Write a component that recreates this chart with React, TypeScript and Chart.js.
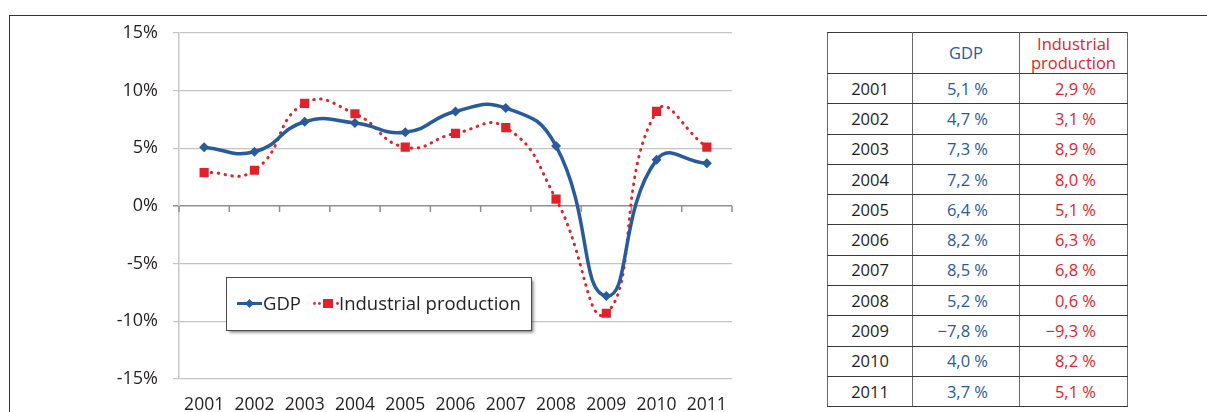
import React, { useEffect, useRef } from "react";
import { Chart, registerables } from "chart.js";

Chart.register(...registerables);

const years = ["2001", "2002", "2003", "2004", "2005", "2006", "2007", "2008", "2009", "2010", "2011"];
const gdp = [5.1, 4.7, 7.3, 7.2, 6.4, 8.2, 8.5, 5.2, -7.8, 4.0, 3.7];
const industrial = [2.9, 3.1, 8.9, 8.0, 5.1, 6.3, 6.8, 0.6, -9.3, 8.2, 5.1];
const gdpLabels = ["5,1 %", "4,7 %", "7,3 %", "7,2 %", "6,4 %", "8,2 %", "8,5 %", "5,2 %", "\u22127,8 %", "4,0 %", "3,7 %"];
const industrialLabels = ["2,9 %", "3,1 %", "8,9 %", "8,0 %", "5,1 %", "6,3 %", "6,8 %", "0,6 %", "\u22129,3 %", "8,2 %", "5,1 %"];
const yMin = -15;
const yMax = 15;
const yStep = 5;
const seriesNames = ["GDP", "Industrial production"];
const headerIndustrial = ["Industrial", "production"];

const BLUE = "#285a9c";
const RED = "#e2222b";
const FONT = "'Open Sans', 'DejaVu Sans', sans-serif";

const zeroTicksPlugin = {
  id: "zeroTicks",
  afterDatasetsDraw(chart: any) {
    const { ctx, scales } = chart;
    const x = scales.x;
    const y = scales.y;
    const y0 = y.getPixelForValue(0);
    const step = x.getPixelForValue(1) - x.getPixelForValue(0);
    ctx.save();
    ctx.strokeStyle = "#8f8f8f";
    ctx.lineWidth = 1.5;
    for (let i = 0; i <= years.length; i++) {
      const px = x.getPixelForValue(0) - step / 2 + i * step;
      ctx.beginPath();
      ctx.moveTo(px, y0);
      ctx.lineTo(px, y0 + 6);
      ctx.stroke();
    }
    ctx.restore();
  },
};

const legendPlugin = {
  id: "boxLegend",
  afterDraw(chart: any) {
    const { ctx } = chart;
    const bx = 226, by = 277, bw = 305, bh = 53;
    ctx.save();
    ctx.shadowColor = "rgba(0,0,0,0.5)";
    ctx.shadowBlur = 3;
    ctx.shadowOffsetX = 2.5;
    ctx.shadowOffsetY = 2.5;
    ctx.fillStyle = "#ffffff";
    ctx.fillRect(bx, by, bw, bh);
    ctx.shadowColor = "transparent";
    ctx.strokeStyle = "#4a4a4a";
    ctx.lineWidth = 1;
    ctx.strokeRect(bx + 0.5, by + 0.5, bw, bh);

    const cy = by + 26.5;
    ctx.strokeStyle = BLUE;
    ctx.lineWidth = 3;
    ctx.beginPath();
    ctx.moveTo(237, cy);
    ctx.lineTo(262, cy);
    ctx.stroke();
    ctx.fillStyle = BLUE;
    ctx.beginPath();
    ctx.moveTo(249.5 - 4.5, cy);
    ctx.lineTo(249.5, cy - 4.5);
    ctx.lineTo(249.5 + 4.5, cy);
    ctx.lineTo(249.5, cy + 4.5);
    ctx.closePath();
    ctx.fill();

    ctx.font = `18.5px ${FONT}`;
    ctx.fillStyle = "#231f20";
    ctx.textBaseline = "middle";
    ctx.textAlign = "left";
    ctx.fillText(seriesNames[0], 263, cy + 1);

    ctx.fillStyle = RED;
    [314.5, 319.5, 337.5].forEach((dx) => {
      ctx.beginPath();
      ctx.arc(dx, cy, 1.4, 0, Math.PI * 2);
      ctx.fill();
    });
    ctx.fillRect(323, cy - 4.5, 10, 9);

    ctx.fillStyle = "#231f20";
    ctx.fillText(seriesNames[1], 339, cy + 1);
    ctx.restore();
  },
};

function ChartPanel() {
  const ref = useRef<HTMLCanvasElement>(null);
  useEffect(() => {
    if (!ref.current) return;
    const chart = new Chart(ref.current, {
      type: "line",
      data: {
        labels: years,
        datasets: [
          {
            label: seriesNames[0],
            data: gdp,
            borderColor: BLUE,
            backgroundColor: BLUE,
            borderWidth: 3.5,
            tension: 0.5,
            pointStyle: "rectRot",
            pointRadius: 5,
            pointBorderWidth: 0,
            pointBackgroundColor: BLUE,
            fill: false,
          },
          {
            label: seriesNames[1],
            data: industrial,
            borderColor: RED,
            backgroundColor: RED,
            borderWidth: 3,
            borderDash: [0.5, 6.5],
            borderCapStyle: "round",
            tension: 0.5,
            pointStyle: "rect",
            pointRadius: 6.5,
            pointBorderWidth: 0,
            pointBackgroundColor: RED,
            fill: false,
          },
        ],
      },
      options: {
        responsive: false,
        animation: false,
        devicePixelRatio: 1,
        layout: { padding: { left: 0, right: 28, top: 33, bottom: 21 } },
        plugins: {
          legend: { display: false },
          tooltip: { enabled: false },
          title: { display: false },
        },
        scales: {
          x: {
            type: "category",
            offset: true,
            grid: { display: false, drawTicks: false },
            border: { display: false },
            ticks: {
              color: "#231f20",
              font: { family: FONT, size: 17.5 },
              padding: 16,
              maxRotation: 0,
              autoSkip: false,
            },
            afterFit: (s: any) => {
              s.height = 40;
            },
          },
          y: {
            min: yMin,
            max: yMax,
            ticks: {
              stepSize: yStep,
              color: "#231f20",
              font: { family: FONT, size: 18 },
              padding: 15,
              callback: (v: any) => `${v}%`,
            },
            grid: {
              color: (c: any) => (c.tick && c.tick.value === 0 ? "#8f8f8f" : "#c4c4c4"),
              lineWidth: (c: any) => (c.tick && c.tick.value === 0 ? 1.5 : 1.2),
              tickLength: 6,
            },
            border: { color: "#c8c8c8", width: 1.5 },
            afterFit: (s: any) => {
              s.width = 179;
            },
          },
        },
      },
      plugins: [zeroTicksPlugin, legendPlugin],
    });
    return () => chart.destroy();
  }, []);
  return (
    <canvas
      ref={ref}
      width={760}
      height={440}
      style={{ position: "absolute", left: 0, top: 0, width: 760, height: 440 }}
    />
  );
}

function DataTable() {
  const cellBase: React.CSSProperties = {
    borderTop: "1px solid #3a3a3a",
    borderBottom: "1px solid #3a3a3a",
    borderLeft: "1px solid #6a6a6a",
    borderRight: "1px solid #6a6a6a",
    padding: 0,
    height: 29.3,
    boxSizing: "border-box",
    fontFamily: FONT,
    fontSize: 16.5,
    lineHeight: "20px",
    verticalAlign: "middle",
  };
  return (
    <table
      style={{
        position: "absolute",
        left: 827,
        top: 32,
        borderCollapse: "collapse",
        border: "1.5px solid #9a9a9a",
        tableLayout: "fixed",
        width: 301,
      }}
    >
      <colgroup>
        <col style={{ width: 85 }} />
        <col style={{ width: 107 }} />
        <col style={{ width: 108 }} />
      </colgroup>
      <tbody>
        <tr style={{ height: 41 }}>
          <td style={{ ...cellBase, height: 41 }}></td>
          <td style={{ ...cellBase, height: 41, color: BLUE, textAlign: "center" }}>{seriesNames[0]}</td>
          <td style={{ ...cellBase, height: 41, color: RED, textAlign: "center", lineHeight: "19px" }}>
            {headerIndustrial[0]}
            <br />
            {headerIndustrial[1]}
          </td>
        </tr>
        {years.map((yr, i) => (
          <tr key={yr} style={{ height: 30.3 }}>
            <td style={{ ...cellBase, color: "#231f20", textAlign: "center" }}>{yr}</td>
            <td style={{ ...cellBase, color: BLUE, textAlign: "right", paddingRight: 31 }}>{gdpLabels[i]}</td>
            <td style={{ ...cellBase, color: RED, textAlign: "right", paddingRight: 31 }}>{industrialLabels[i]}</td>
          </tr>
        ))}
      </tbody>
    </table>
  );
}

export default function App() {
  return (
    <div
      style={{
        position: "fixed",
        left: 0,
        top: 0,
        width: 1207,
        height: 412,
        overflow: "hidden",
        background: "#ffffff",
      }}
    >
      <div
        style={{
          position: "absolute",
          left: 8.5,
          top: 14.5,
          width: 1300,
          height: 500,
          borderTop: "1.5px solid #333",
          borderLeft: "1.5px solid #333",
        }}
      />
      <ChartPanel />
      <DataTable />
    </div>
  );
}
